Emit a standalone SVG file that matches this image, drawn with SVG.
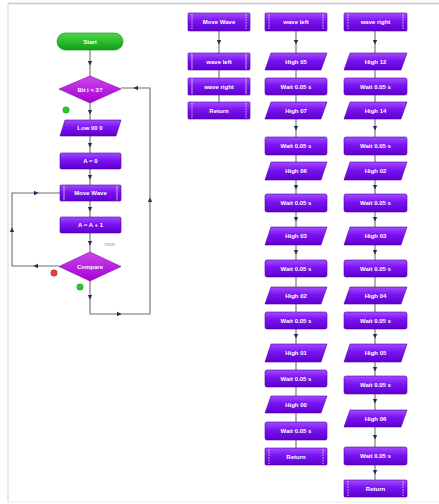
<svg xmlns="http://www.w3.org/2000/svg" xmlns:xlink="http://www.w3.org/1999/xlink" width="439" height="504" viewBox="0 0 439 504">
<style>
.n{fill:url(#gP);stroke:#5200a8;stroke-width:0.6}
.d{fill:url(#gD);stroke:#8a00b0;stroke-width:0.6}
.g{fill:url(#gG);stroke:#0a8a0a;stroke-width:0.6}
.t{fill:#fff;font-family:"Liberation Sans",Arial,sans-serif;font-size:6px;font-weight:bold;text-anchor:middle;dominant-baseline:central}
.c{fill:none;stroke:#6e6e6e;stroke-width:1.1}
.bar{stroke:#fff;stroke-width:0.7;stroke-dasharray:1.5 1.2}
.sb{stroke:#e8d8ff;stroke-width:0.7}
</style>
<defs>
<linearGradient id="gP" x1="0" y1="0" x2="0" y2="1"><stop offset="0" stop-color="#a24cff"/><stop offset="0.45" stop-color="#7a12f2"/><stop offset="1" stop-color="#5e00cc"/></linearGradient>
<linearGradient id="gD" x1="0" y1="0" x2="0" y2="1"><stop offset="0" stop-color="#cf45ee"/><stop offset="1" stop-color="#a400d4"/></linearGradient>
<linearGradient id="gG" x1="0" y1="0" x2="0" y2="1"><stop offset="0" stop-color="#4cd84c"/><stop offset="1" stop-color="#0f9e14"/></linearGradient>
<path id="ah" d="M2.6,0 L-2,-2.2 L-2,2.2 Z" fill="#2a2a5a"/>
</defs>
<rect width="439" height="504" fill="#fff"/>
<line x1="8" y1="3.5" x2="439" y2="3.5" stroke="#c8c8c8" stroke-width="1.5"/>
<line x1="8" y1="3" x2="8" y2="502" stroke="#e2e2e2" stroke-width="1.5"/>
<line x1="8" y1="502" x2="439" y2="502" stroke="#ececec" stroke-width="1"/>

<g id="connectors">
<path class="c" d="M90,50 V252 M90,281 V314 H150 V88 H121 M59,266 H12 V193 H60"/>
<path class="c" d="M219,31 V102"/>
<path class="c" d="M296,31 V448"/>
<path class="c" d="M375,31 V480"/>
<use xlink:href="#ah" transform="translate(90,63) rotate(90)"/>
<use xlink:href="#ah" transform="translate(90,112) rotate(90)"/>
<use xlink:href="#ah" transform="translate(90,145) rotate(90)"/>
<use xlink:href="#ah" transform="translate(90,177) rotate(90)"/>
<use xlink:href="#ah" transform="translate(90,209) rotate(90)"/>
<use xlink:href="#ah" transform="translate(90,243) rotate(90)"/>
<use xlink:href="#ah" transform="translate(90,297) rotate(90)"/>
<use xlink:href="#ah" transform="translate(119,314)"/>
<use xlink:href="#ah" transform="translate(150,200) rotate(-90)"/>
<use xlink:href="#ah" transform="translate(136,88) rotate(180)"/>
<use xlink:href="#ah" transform="translate(36,266) rotate(180)"/>
<use xlink:href="#ah" transform="translate(12,230) rotate(-90)"/>
<use xlink:href="#ah" transform="translate(36,193)"/>
<use xlink:href="#ah" transform="translate(219,42) rotate(90)"/>
<use xlink:href="#ah" transform="translate(296,42) rotate(90)"/>
<use xlink:href="#ah" transform="translate(296,128) rotate(90)"/>
<use xlink:href="#ah" transform="translate(296,187) rotate(90)"/>
<use xlink:href="#ah" transform="translate(296,219) rotate(90)"/>
<use xlink:href="#ah" transform="translate(296,252) rotate(90)"/>
<use xlink:href="#ah" transform="translate(296,336) rotate(90)"/>
<use xlink:href="#ah" transform="translate(375,42) rotate(90)"/>
<use xlink:href="#ah" transform="translate(375,128) rotate(90)"/>
<use xlink:href="#ah" transform="translate(375,187) rotate(90)"/>
<use xlink:href="#ah" transform="translate(375,219) rotate(90)"/>
<use xlink:href="#ah" transform="translate(375,252) rotate(90)"/>
<use xlink:href="#ah" transform="translate(375,336) rotate(90)"/>
<use xlink:href="#ah" transform="translate(375,369) rotate(90)"/>
<use xlink:href="#ah" transform="translate(375,401) rotate(90)"/>
<use xlink:href="#ah" transform="translate(375,437) rotate(90)"/>
<use xlink:href="#ah" transform="translate(375,472) rotate(90)"/>
</g>

<!-- main flow -->
<g id="start"><rect class="g" x="57" y="33" width="66" height="17" rx="8.5"/><text class="t" x="90" y="41.5">Start</text></g>
<g id="loop"><polygon class="d" points="90,76 121,89 90,103 59,89"/><text class="t" x="90" y="89.5">Bit i &lt; 3?</text></g>
<circle cx="66" cy="110" r="3.2" fill="#2fc42f" stroke="#1a9a1a" stroke-width="0.5"/>
<g id="low"><polygon class="n" points="65,120 121,120 116,136 60,136"/><text class="t" x="90" y="128">Low 00 0</text></g>
<g id="assign1"><rect class="n" x="60" y="153" width="61" height="16" rx="1.5"/><text class="t" x="90.5" y="161">A = 0</text></g>
<g id="callMove"><rect class="n" x="60" y="185" width="61" height="16" rx="1"/><line class="sb" x1="64" y1="185.5" x2="64" y2="200.5"/><line class="sb" x1="117" y1="185.5" x2="117" y2="200.5"/><text class="t" x="90.5" y="193">Move Wave</text></g>
<g id="assign2"><rect class="n" x="60" y="217" width="61" height="16" rx="1.5"/><text class="t" x="90.5" y="225">A = A + 1</text></g>
<text x="104" y="246" fill="#8a8a8a" font-family="Liberation Sans,Arial,sans-serif" font-size="4">TRUE</text>
<g id="compare"><polygon class="d" points="90,252 121,266.5 90,281 59,266.5"/><text class="t" x="90" y="267">Compare</text></g>
<circle cx="54" cy="273" r="3.2" fill="#e04040" stroke="#b02020" stroke-width="0.5"/>
<circle cx="80" cy="287" r="3.2" fill="#2fc42f" stroke="#1a9a1a" stroke-width="0.5"/>

<!-- Move Wave -->
<g id="mw-head"><rect class="n" x="188" y="13" width="62" height="18" rx="1"/><line class="bar" x1="192" y1="14" x2="192" y2="30"/><line class="bar" x1="246" y1="14" x2="246" y2="30"/><text class="t" x="219" y="22">Move Wave</text></g>
<g id="mw-1"><rect class="n" x="188" y="53" width="62" height="17" rx="1"/><line class="sb" x1="192" y1="53.5" x2="192" y2="69.5"/><line class="sb" x1="246" y1="53.5" x2="246" y2="69.5"/><text class="t" x="219" y="61.5">wave left</text></g>
<g id="mw-2"><rect class="n" x="188" y="78" width="62" height="17" rx="1"/><line class="sb" x1="192" y1="78.5" x2="192" y2="94.5"/><line class="sb" x1="246" y1="78.5" x2="246" y2="94.5"/><text class="t" x="219" y="86.5">wave right</text></g>
<g id="mw-ret"><rect class="n" x="188" y="102" width="62" height="17" rx="1"/><line class="bar" x1="192" y1="103" x2="192" y2="118"/><line class="bar" x1="246" y1="103" x2="246" y2="118"/><text class="t" x="219" y="110.5">Return</text></g>

<!-- wave left -->
<g id="wl-head"><rect class="n" x="265" y="13" width="62" height="18" rx="1"/><line class="bar" x1="269" y1="14" x2="269" y2="30"/><line class="bar" x1="323" y1="14" x2="323" y2="30"/><text class="t" x="296" y="22">wave left</text></g>
<g id="wl-1"><polygon class="n" points="271,53 327,53 321,70 265,70"/><text class="t" x="296" y="61.5">High 05</text></g>
<g id="wl-2"><rect class="n" x="265" y="78" width="62" height="17" rx="2"/><text class="t" x="296" y="86.5">Wait 0.05 s</text></g>
<g id="wl-3"><polygon class="n" points="271,102 327,102 321,119 265,119"/><text class="t" x="296" y="110.5">High 07</text></g>
<g id="wl-4"><rect class="n" x="265" y="137" width="62" height="18" rx="2"/><text class="t" x="296" y="146">Wait 0.05 s</text></g>
<g id="wl-5"><polygon class="n" points="271,162 327,162 321,180 265,180"/><text class="t" x="296" y="171">High 06</text></g>
<g id="wl-6"><rect class="n" x="265" y="194" width="62" height="18" rx="2"/><text class="t" x="296" y="203">Wait 0.05 s</text></g>
<g id="wl-7"><polygon class="n" points="271,227 327,227 321,245 265,245"/><text class="t" x="296" y="236">High 03</text></g>
<g id="wl-8"><rect class="n" x="265" y="260" width="62" height="17" rx="2"/><text class="t" x="296" y="268.5">Wait 0.05 s</text></g>
<g id="wl-9"><polygon class="n" points="271,287 327,287 321,304 265,304"/><text class="t" x="296" y="295.5">High 02</text></g>
<g id="wl-10"><rect class="n" x="265" y="312" width="62" height="17" rx="2"/><text class="t" x="296" y="320.5">Wait 0.05 s</text></g>
<g id="wl-11"><polygon class="n" points="271,344 327,344 321,362 265,362"/><text class="t" x="296" y="353">High 01</text></g>
<g id="wl-12"><rect class="n" x="265" y="370" width="62" height="17" rx="2"/><text class="t" x="296" y="378.5">Wait 0.05 s</text></g>
<g id="wl-13"><polygon class="n" points="271,396 327,396 321,413 265,413"/><text class="t" x="296" y="404.5">High 00</text></g>
<g id="wl-14"><rect class="n" x="265" y="422" width="62" height="18" rx="2"/><text class="t" x="296" y="431">Wait 0.05 s</text></g>
<g id="wl-ret"><rect class="n" x="265" y="448" width="62" height="17" rx="1"/><line class="bar" x1="269" y1="449" x2="269" y2="464"/><line class="bar" x1="323" y1="449" x2="323" y2="464"/><text class="t" x="296" y="456.5">Return</text></g>

<!-- wave right -->
<g id="wr-head"><rect class="n" x="344" y="13" width="63" height="18" rx="1"/><line class="bar" x1="348" y1="14" x2="348" y2="30"/><line class="bar" x1="403" y1="14" x2="403" y2="30"/><text class="t" x="375.5" y="22">wave right</text></g>
<g id="wr-1"><polygon class="n" points="350,53 407,53 401,70 344,70"/><text class="t" x="375.5" y="61.5">High 12</text></g>
<g id="wr-2"><rect class="n" x="344" y="78" width="63" height="17" rx="2"/><text class="t" x="375.5" y="86.5">Wait 0.05 s</text></g>
<g id="wr-3"><polygon class="n" points="350,102 407,102 401,119 344,119"/><text class="t" x="375.5" y="110.5">High 14</text></g>
<g id="wr-4"><rect class="n" x="344" y="137" width="63" height="18" rx="2"/><text class="t" x="375.5" y="146">Wait 0.05 s</text></g>
<g id="wr-5"><polygon class="n" points="350,162 407,162 401,180 344,180"/><text class="t" x="375.5" y="171">High 02</text></g>
<g id="wr-6"><rect class="n" x="344" y="194" width="63" height="18" rx="2"/><text class="t" x="375.5" y="203">Wait 0.05 s</text></g>
<g id="wr-7"><polygon class="n" points="350,227 407,227 401,245 344,245"/><text class="t" x="375.5" y="236">High 03</text></g>
<g id="wr-8"><rect class="n" x="344" y="260" width="63" height="17" rx="2"/><text class="t" x="375.5" y="268.5">Wait 0.05 s</text></g>
<g id="wr-9"><polygon class="n" points="350,287 407,287 401,304 344,304"/><text class="t" x="375.5" y="295.5">High 04</text></g>
<g id="wr-10"><rect class="n" x="344" y="312" width="63" height="17" rx="2"/><text class="t" x="375.5" y="320.5">Wait 0.05 s</text></g>
<g id="wr-11"><polygon class="n" points="350,344 407,344 401,362 344,362"/><text class="t" x="375.5" y="353">High 05</text></g>
<g id="wr-12"><rect class="n" x="344" y="376" width="63" height="18" rx="2"/><text class="t" x="375.5" y="385">Wait 0.05 s</text></g>
<g id="wr-13"><polygon class="n" points="350,410 407,410 401,427 344,427"/><text class="t" x="375.5" y="418.5">High 06</text></g>
<g id="wr-14"><rect class="n" x="344" y="447" width="63" height="18" rx="2"/><text class="t" x="375.5" y="456">Wait 0.05 s</text></g>
<g id="wr-ret"><rect class="n" x="344" y="480" width="63" height="17" rx="1"/><line class="bar" x1="348" y1="481" x2="348" y2="496"/><line class="bar" x1="403" y1="481" x2="403" y2="496"/><text class="t" x="375.5" y="488.5">Return</text></g>
</svg>
